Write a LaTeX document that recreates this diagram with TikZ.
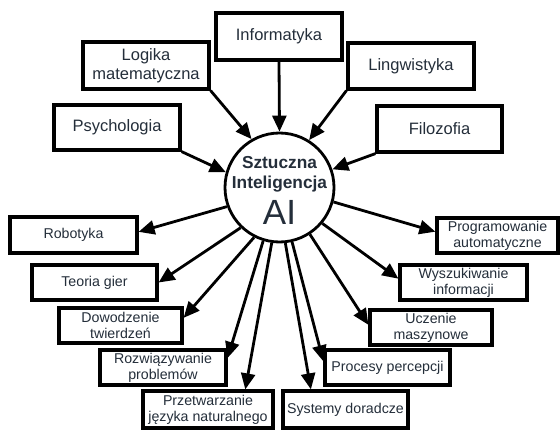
\documentclass[tikz,border=0pt]{standalone}
\usepackage{fontspec}
\setmainfont{Liberation Sans}
\usetikzlibrary{arrows.meta,calc}
\definecolor{txt}{RGB}{36,46,58}
\begin{document}
\begin{tikzpicture}[x=1pt,y=-1pt,
  box/.style={draw=black, line width=3.2pt, rectangle, inner sep=0pt, align=center, text=txt},
  bigbox/.style={box, font=\fontsize{16.5}{19}\selectfont},
  smallbox/.style={box, font=\fontsize{14.2}{15.8}\selectfont},
  arr/.style={line width=2.8pt, -{Triangle[length=16pt,width=14pt]}},
  aitext/.style={anchor=base, text=txt, inner sep=0pt},
]
\useasboundingbox (0,0) rectangle (560,433);
\fill[white] (0,0) rectangle (560,433);

% centre
\node[draw=black, line width=2.8pt, circle, minimum size=109pt, inner sep=0pt] (ai) at (279.5,187.5) {};
\node[aitext, font=\bfseries\fontsize{17.3}{19}\selectfont] (t1) at (279.5,168) {Sztuczna};
\node[aitext, font=\bfseries\fontsize{17.3}{19}\selectfont] (t2) at (279.5,189) {Inteligencja};
\node[aitext, font=\fontsize{35}{37}\selectfont] (t3) at (279.5,225) {AI};

% top boxes
\node[bigbox, minimum width=126pt, minimum height=47pt] (info) at (279,36.5) {Informatyka};
\node[bigbox, minimum width=126pt, minimum height=47pt] (logika) at (146,65.5) {Logika\\matematyczna};
\node[bigbox, minimum width=126pt, minimum height=46pt] (ling) at (411,66) {Lingwistyka};
\node[bigbox, minimum width=126pt, minimum height=45pt] (psy) at (117,127.5) {Psychologia};
\node[bigbox, minimum width=125pt, minimum height=46pt] (filo) at (439.5,129) {Filozofia};

% bottom boxes
\node[smallbox, minimum width=127pt, minimum height=36pt] (robot) at (73.5,235) {Robotyka};
\node[smallbox, minimum width=125pt, minimum height=35pt] (teoria) at (94.5,282.5) {Teoria gier};
\node[smallbox, minimum width=123pt, minimum height=35pt] (dow) at (120.5,325.5) {Dowodzenie\\twierdzeń};
\node[smallbox, minimum width=126pt, minimum height=35pt] (roz) at (163,367.5) {Rozwiązywanie\\problemów};
\node[smallbox, minimum width=130pt, minimum height=37pt] (prz) at (208,409.5) {Przetwarzanie\\języka naturalnego};
\node[smallbox, minimum width=121pt, minimum height=35pt] (prog) at (497.5,235.5) {Programowanie\\automatyczne};
\node[smallbox, minimum width=127pt, minimum height=35pt] (wys) at (463.5,282.5) {Wyszukiwanie\\informacji};
\node[smallbox, minimum width=122pt, minimum height=35pt] (ucz) at (431,327.5) {Uczenie\\maszynowe};
\node[smallbox, minimum width=125pt, minimum height=35pt] (proc) at (387.5,367.5) {Procesy percepcji};
\node[smallbox, minimum width=125pt, minimum height=37pt] (sys) at (345.5,409.5) {Systemy doradcze};

% incoming
\draw[arr] (info.south) -- (ai.north);
\draw[arr] (logika.south east) -- (ai.120);
\draw[arr] (ling.south west) -- (ai.58);
\draw[arr] (psy.south east) -- (ai.164);
\draw[arr] (filo.south west) -- (ai.19);

% outgoing
\draw[arr] (ai.200) -- ($(robot.north east)!0.42!(robot.south east)$);
\draw[arr] (ai.226) -- (teoria.east);
\draw[arr] (ai.243) -- ($(dow.north east)!0.3!(dow.south east)$);
\draw[arr] (ai.253) -- ($(roz.north east)!0.25!(roz.south east)$);
\draw[arr] (ai.262) -- ($(prz.north west)!0.78!(prz.north east)$);
\draw[arr] (ai.276) -- ($(sys.north west)!0.23!(sys.north east)$);
\draw[arr] (ai.283) -- ($(proc.north west)!0.34!(proc.south west)$);
\draw[arr] (ai.303) -- ($(ucz.north west)!0.43!(ucz.south west)$);
\draw[arr] (ai.320) -- ($(wys.north west)!0.4!(wys.south west)$);
\draw[arr] (ai.345) -- ($(prog.north west)!0.4!(prog.south west)$);
\end{tikzpicture}
\end{document}
